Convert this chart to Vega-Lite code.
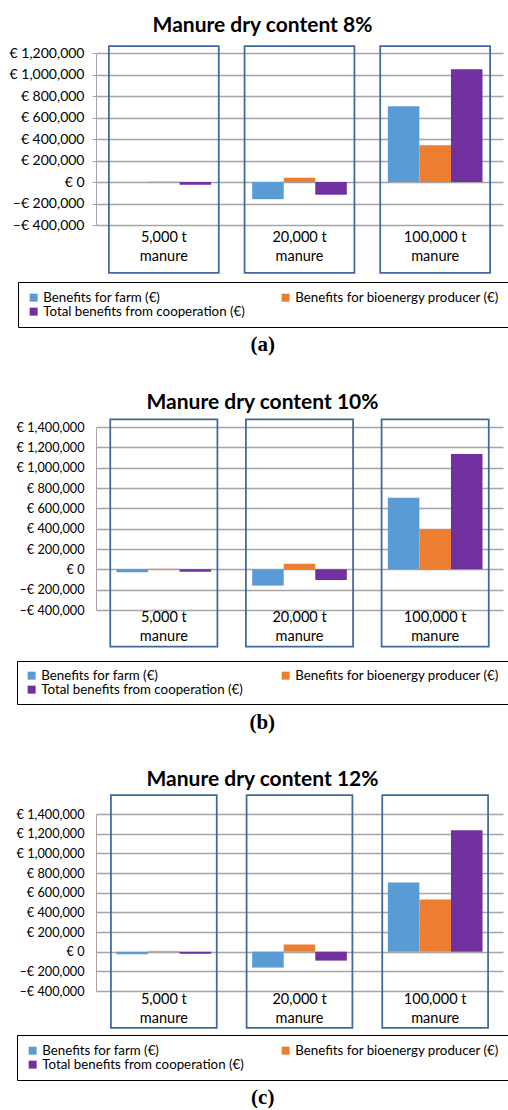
{
  "$schema": "https://vega.github.io/schema/vega-lite/v6.json",
  "padding": {"left": 8, "top": 15, "right": 0, "bottom": 0},
  "background": "white",
  "config": {"font": "Lato", "view": {"stroke": null}},
  "data": {"values": [
    {"panel": "8%", "size": "5,000 t manure", "series": "Benefits for farm (€)", "value": 0},
    {"panel": "8%", "size": "5,000 t manure", "series": "Benefits for bioenergy producer (€)", "value": 3000},
    {"panel": "8%", "size": "5,000 t manure", "series": "Total benefits from cooperation (€)", "value": -25000},
    {"panel": "8%", "size": "20,000 t manure", "series": "Benefits for farm (€)", "value": -160000},
    {"panel": "8%", "size": "20,000 t manure", "series": "Benefits for bioenergy producer (€)", "value": 40000},
    {"panel": "8%", "size": "20,000 t manure", "series": "Total benefits from cooperation (€)", "value": -118000},
    {"panel": "8%", "size": "100,000 t manure", "series": "Benefits for farm (€)", "value": 704000},
    {"panel": "8%", "size": "100,000 t manure", "series": "Benefits for bioenergy producer (€)", "value": 341000},
    {"panel": "8%", "size": "100,000 t manure", "series": "Total benefits from cooperation (€)", "value": 1048000},
    {"panel": "10%", "size": "5,000 t manure", "series": "Benefits for farm (€)", "value": -29000},
    {"panel": "10%", "size": "5,000 t manure", "series": "Benefits for bioenergy producer (€)", "value": 5000},
    {"panel": "10%", "size": "5,000 t manure", "series": "Total benefits from cooperation (€)", "value": -23000},
    {"panel": "10%", "size": "20,000 t manure", "series": "Benefits for farm (€)", "value": -160000},
    {"panel": "10%", "size": "20,000 t manure", "series": "Benefits for bioenergy producer (€)", "value": 56000},
    {"panel": "10%", "size": "20,000 t manure", "series": "Total benefits from cooperation (€)", "value": -105000},
    {"panel": "10%", "size": "100,000 t manure", "series": "Benefits for farm (€)", "value": 703000},
    {"panel": "10%", "size": "100,000 t manure", "series": "Benefits for bioenergy producer (€)", "value": 395000},
    {"panel": "10%", "size": "100,000 t manure", "series": "Total benefits from cooperation (€)", "value": 1134000},
    {"panel": "12%", "size": "5,000 t manure", "series": "Benefits for farm (€)", "value": -27000},
    {"panel": "12%", "size": "5,000 t manure", "series": "Benefits for bioenergy producer (€)", "value": 8000},
    {"panel": "12%", "size": "5,000 t manure", "series": "Total benefits from cooperation (€)", "value": -20000},
    {"panel": "12%", "size": "20,000 t manure", "series": "Benefits for farm (€)", "value": -162000},
    {"panel": "12%", "size": "20,000 t manure", "series": "Benefits for bioenergy producer (€)", "value": 74000},
    {"panel": "12%", "size": "20,000 t manure", "series": "Total benefits from cooperation (€)", "value": -91000},
    {"panel": "12%", "size": "100,000 t manure", "series": "Benefits for farm (€)", "value": 703000},
    {"panel": "12%", "size": "100,000 t manure", "series": "Benefits for bioenergy producer (€)", "value": 530000},
    {"panel": "12%", "size": "100,000 t manure", "series": "Total benefits from cooperation (€)", "value": 1235000}
  ]},
  "columns": 1,
  "spacing": 36,
  "align": "none",
  "resolve": {"scale": {"color": "independent"}, "legend": {"color": "independent"}},
  "concat": [
    {
      "title": {"text": "(a)", "orient": "bottom", "anchor": "middle", "font": "Liberation Serif", "fontSize": 21, "fontWeight": "bold", "color": "black", "offset": 6, "dx": 4},
      "resolve": {"scale": {"color": "independent"}, "legend": {"color": "independent"}},
      "vconcat": [
        {
          "title": {"text": "Manure dry content 8%", "font": "Lato", "fontSize": 21, "fontWeight": "bold", "color": "black", "frame": "group", "dx": -37, "offset": 9},
          "width": 407,
          "height": 172,
          "transform": [{"filter": "datum.panel == '8%'"}],
          "encoding": {
            "x": {"field": "size", "type": "nominal", "sort": ["5,000 t manure", "20,000 t manure", "100,000 t manure"], "scale": {"paddingInner": 0, "paddingOuter": 0},
              "axis": {"title": null, "domain": false, "ticks": false, "grid": false, "labelAngle": 0, "labelFontSize": 14.5, "labelLineHeight": 19, "labelPadding": 5, "labelColor": "black", "labelExpr": "[replace(datum.label, ' manure', ''), 'manure']"}},
            "y": {"type": "quantitative", "scale": {"domain": [-400000, 1200000], "nice": false},
              "axis": {"title": null, "values": [-400000, -200000, 0, 200000, 400000, 600000, 800000, 1000000, 1200000], "labelExpr": "datum.value < 0 ? '–€ ' + format(-datum.value, ',') : '€ ' + format(datum.value, ',')", "labelFontSize": 14, "labelColor": "black", "grid": true, "gridColor": "#a5a5a5", "gridWidth": 1.3, "domainColor": "#a5a5a5", "tickColor": "#a5a5a5", "tickSize": 4, "labelPadding": 8, "minExtent": 88, "maxExtent": 88}}
          },
          "layer": [
            {
              "mark": {"type": "bar"},
              "encoding": {
                "xOffset": {"field": "series", "type": "nominal", "sort": ["Benefits for farm (€)", "Benefits for bioenergy producer (€)", "Total benefits from cooperation (€)"], "scale": {"paddingOuter": 0.65, "paddingInner": 0}},
                "y": {"field": "value"},
                "color": {"field": "series", "type": "nominal", "sort": ["Benefits for farm (€)", "Benefits for bioenergy producer (€)", "Total benefits from cooperation (€)"],
                  "scale": {"domain": ["Benefits for farm (€)", "Benefits for bioenergy producer (€)", "Total benefits from cooperation (€)"], "range": ["#5b9bd5", "#ed7d31", "#7030a0"]},
                  "legend": {"title": null, "orient": "none", "legendX": -78, "legendY": 229, "direction": "horizontal", "columns": 2, "symbolType": "square", "symbolSize": 64, "symbolStrokeWidth": 0, "labelFontSize": 13.3, "labelColor": "black", "labelLimit": 300, "labelOffset": 3, "padding": 9, "columnPadding": 34, "rowPadding": 0, "strokeColor": "black", "fillColor": "white"}}
              }
            },
            {
              "transform": [{"filter": "datum.series == 'Benefits for farm (€)'"}],
              "mark": {"type": "bar", "filled": false, "stroke": "#3e6b9b", "strokeWidth": 1.75, "width": {"band": 0.81}},
              "encoding": {
                "y": {"datum": 1265000},
                "y2": {"datum": -846000}
              }
            }
          ]
        }
      ]
    },
    {
      "title": {"text": "(b)", "orient": "bottom", "anchor": "middle", "font": "Liberation Serif", "fontSize": 21, "fontWeight": "bold", "color": "black", "offset": 7, "dx": 4},
      "resolve": {"scale": {"color": "independent"}, "legend": {"color": "independent"}},
      "vconcat": [
        {
          "title": {"text": "Manure dry content 10%", "font": "Lato", "fontSize": 21, "fontWeight": "bold", "color": "black", "frame": "group", "dx": -37, "offset": 6},
          "width": 407,
          "height": 183,
          "transform": [{"filter": "datum.panel == '10%'"}],
          "encoding": {
            "x": {"field": "size", "type": "nominal", "sort": ["5,000 t manure", "20,000 t manure", "100,000 t manure"], "scale": {"paddingInner": 0, "paddingOuter": 0},
              "axis": {"title": null, "domain": false, "ticks": false, "grid": false, "labelAngle": 0, "labelFontSize": 14.5, "labelLineHeight": 19, "labelPadding": 0, "labelColor": "black", "labelExpr": "[replace(datum.label, ' manure', ''), 'manure']"}},
            "y": {"type": "quantitative", "scale": {"domain": [-400000, 1400000], "nice": false},
              "axis": {"title": null, "values": [-400000, -200000, 0, 200000, 400000, 600000, 800000, 1000000, 1200000, 1400000], "labelExpr": "datum.value < 0 ? '–€ ' + format(-datum.value, ',') : '€ ' + format(datum.value, ',')", "labelFontSize": 12.7, "labelColor": "black", "grid": true, "gridColor": "#a5a5a5", "gridWidth": 1.3, "domainColor": "#a5a5a5", "tickColor": "#a5a5a5", "tickSize": 0, "labelPadding": 12, "minExtent": 88, "maxExtent": 88}}
          },
          "layer": [
            {
              "mark": {"type": "bar"},
              "encoding": {
                "xOffset": {"field": "series", "type": "nominal", "sort": ["Benefits for farm (€)", "Benefits for bioenergy producer (€)", "Total benefits from cooperation (€)"], "scale": {"paddingOuter": 0.76, "paddingInner": 0}},
                "y": {"field": "value"},
                "color": {"field": "series", "type": "nominal", "sort": ["Benefits for farm (€)", "Benefits for bioenergy producer (€)", "Total benefits from cooperation (€)"],
                  "scale": {"domain": ["Benefits for farm (€)", "Benefits for bioenergy producer (€)", "Total benefits from cooperation (€)"], "range": ["#5b9bd5", "#ed7d31", "#7030a0"]},
                  "legend": {"title": null, "orient": "none", "legendX": -79, "legendY": 234, "direction": "horizontal", "columns": 2, "symbolType": "square", "symbolSize": 64, "symbolStrokeWidth": 0, "labelFontSize": 13.3, "labelColor": "black", "labelLimit": 300, "labelOffset": 3, "padding": 8, "columnPadding": 36, "rowPadding": 0, "strokeColor": "black", "fillColor": "white"}}
              }
            },
            {
              "transform": [{"filter": "datum.series == 'Benefits for farm (€)'"}],
              "mark": {"type": "bar", "filled": false, "stroke": "#3e6b9b", "strokeWidth": 1.75, "width": {"band": 0.79}},
              "encoding": {
                "y": {"datum": 1475000},
                "y2": {"datum": -760000}
              }
            }
          ]
        }
      ]
    },
    {
      "title": {"text": "(c)", "orient": "bottom", "anchor": "middle", "font": "Liberation Serif", "fontSize": 21, "fontWeight": "bold", "color": "black", "offset": 6, "dx": 4},
      "resolve": {"scale": {"color": "independent"}, "legend": {"color": "independent"}},
      "vconcat": [
        {
          "title": {"text": "Manure dry content 12%", "font": "Lato", "fontSize": 21, "fontWeight": "bold", "color": "black", "frame": "group", "dx": -37, "offset": 4},
          "width": 407,
          "height": 177,
          "transform": [{"filter": "datum.panel == '12%'"}],
          "encoding": {
            "x": {"field": "size", "type": "nominal", "sort": ["5,000 t manure", "20,000 t manure", "100,000 t manure"], "scale": {"paddingInner": 0, "paddingOuter": 0},
              "axis": {"title": null, "domain": false, "ticks": false, "grid": false, "labelAngle": 0, "labelFontSize": 14.5, "labelLineHeight": 19, "labelPadding": 1, "labelColor": "black", "labelExpr": "[replace(datum.label, ' manure', ''), 'manure']"}},
            "y": {"type": "quantitative", "scale": {"domain": [-400000, 1400000], "nice": false},
              "axis": {"title": null, "values": [-400000, -200000, 0, 200000, 400000, 600000, 800000, 1000000, 1200000, 1400000], "labelExpr": "datum.value < 0 ? '–€ ' + format(-datum.value, ',') : '€ ' + format(datum.value, ',')", "labelFontSize": 12.7, "labelColor": "black", "grid": true, "gridColor": "#a5a5a5", "gridWidth": 1.3, "domainColor": "#a5a5a5", "tickColor": "#a5a5a5", "tickSize": 0, "labelPadding": 12, "minExtent": 88, "maxExtent": 88}}
          },
          "layer": [
            {
              "mark": {"type": "bar"},
              "encoding": {
                "xOffset": {"field": "series", "type": "nominal", "sort": ["Benefits for farm (€)", "Benefits for bioenergy producer (€)", "Total benefits from cooperation (€)"], "scale": {"paddingOuter": 0.76, "paddingInner": 0}},
                "y": {"field": "value"},
                "color": {"field": "series", "type": "nominal", "sort": ["Benefits for farm (€)", "Benefits for bioenergy producer (€)", "Total benefits from cooperation (€)"],
                  "scale": {"domain": ["Benefits for farm (€)", "Benefits for bioenergy producer (€)", "Total benefits from cooperation (€)"], "range": ["#5b9bd5", "#ed7d31", "#7030a0"]},
                  "legend": {"title": null, "orient": "none", "legendX": -79, "legendY": 221, "direction": "horizontal", "columns": 2, "symbolType": "square", "symbolSize": 64, "symbolStrokeWidth": 0, "labelFontSize": 13.3, "labelColor": "black", "labelLimit": 300, "labelOffset": 3, "padding": 9, "columnPadding": 35, "rowPadding": 0, "strokeColor": "black", "fillColor": "white"}}
              }
            },
            {
              "transform": [{"filter": "datum.series == 'Benefits for farm (€)'"}],
              "mark": {"type": "bar", "filled": false, "stroke": "#3e6b9b", "strokeWidth": 1.75, "width": {"band": 0.78}},
              "encoding": {
                "y": {"datum": 1593000},
                "y2": {"datum": -776000}
              }
            }
          ]
        }
      ]
    }
  ]
}
